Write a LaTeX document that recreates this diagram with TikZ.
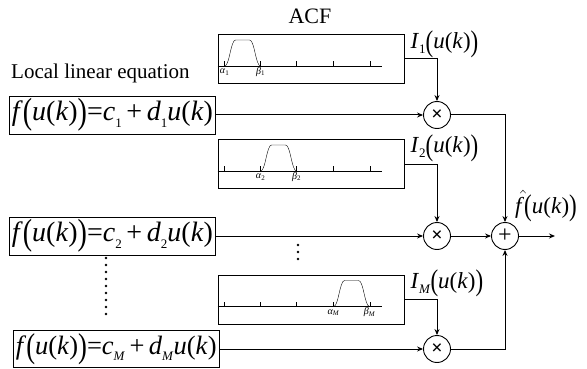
\documentclass[tikz,border=0pt]{standalone}
\usepackage{fontspec}
\setmainfont{Liberation Serif}
\usetikzlibrary{arrows.meta,positioning,calc}
\newcommand{\iv}[1]{\textit{#1}}
\newcommand{\sub}[1]{\raisebox{-0.22em}{\fontsize{13}{13}\selectfont#1}}
\newcommand{\bp}[1]{\raisebox{-0.1em}{\scalebox{1}[1.3]{#1}}}
\newcommand{\uk}{\bp{(}\iv{u}(\iv{k})\bp{)}}
\newcommand{\lineq}[1]{\iv{f}\uk=\iv{c}\sub{#1}\,+\,\iv{d}\sub{#1}\iv{u}(\iv{k})}
\newcommand{\acfbox}[5]{
  \node[acf] (#1) at (311,#2) {};
  \begin{scope}[shift={(#1.west)}]
    \draw (0,7) -- (164,7);
    \foreach \t in {7,43,79,116,153} \draw[line width=1.2pt] (\t,7) -- (\t,2);
    \draw (#3,7) .. controls (#3+5,7) and (#3+6,-19) .. (#3+11,-19)
      -- (#3+25,-19) .. controls (#3+30,-19) and (#3+31,7) .. (#3+36,7);
    \node[tick] at (#3,13) {#4};
    \node[tick] at (#3+36,13) {#5};
  \end{scope}
}
\tikzset{
  acf/.style={draw,line width=0.8pt,minimum width=186pt,minimum height=49pt,inner sep=0pt},
  tick/.style={font=\fontsize{10}{10}\selectfont,inner sep=0pt},
  eqn/.style={draw,line width=0.8pt,inner sep=2.5pt,anchor=west,font=\fontsize{28}{31}\selectfont},
  opr/.style={draw,circle,line width=0.9pt,minimum size=27pt,inner sep=0pt},
  lbl/.style={font=\fontsize{23}{26}\selectfont,inner sep=0pt},
  flow/.style={line width=1pt,-{Stealth[length=6pt,width=5pt]}}
}

\begin{document}
\begin{tikzpicture}[x=1pt,y=-1pt]
  \useasboundingbox (0,0) rectangle (587,369);
  \node[font=\fontsize{22}{24}\selectfont] (acftitle) at (310,16) {ACF};
  \node[font=\fontsize{21}{24}\selectfont,anchor=west,inner sep=0pt] (loctitle) at (11,73) {Local linear equation};

  \acfbox{acf1}{59}{7}{\iv{α}\textsubscript{1}}{\iv{β}\textsubscript{1}}
  \acfbox{acf2}{164}{43}{\iv{α}\textsubscript{2}}{\iv{β}\textsubscript{2}}
  \acfbox{acfm}{299.5}{116}{\iv{α}\textsubscript{\iv{M}}}{\iv{β}\textsubscript{\iv{M}}}

  \node[eqn] (eq1) at (9,115) {\lineq{1}};
  \node[eqn] (eq2) at (9,236) {\lineq{2}};
  \node[eqn,font=\fontsize{26.5}{29}\selectfont] (eqm) at (13,349) {\lineq{\iv{M}}};

  \node[opr,font=\fontsize{20}{20}\selectfont\bfseries] (mul1) at (437,115) {×};
  \node[opr,font=\fontsize{20}{20}\selectfont\bfseries] (mul2) at (437,236) {×};
  \node[opr,font=\fontsize{20}{20}\selectfont\bfseries] (mulm) at (437,349) {×};
  \node[opr,font=\fontsize{24}{24}\selectfont] (sum) at (505,236) {+};
  \coordinate (out) at (555,236);

  \node[lbl,anchor=west] (i1) at ($(acf1.east)+(6,-15)$) {\iv{I}\sub{1}\uk};
  \node[lbl,anchor=west] (i2) at ($(acf2.east)+(6,-16)$) {\iv{I}\sub{2}\uk};
  \node[lbl,anchor=west] (im) at ($(acfm.east)+(6,-16)$) {\iv{I}\sub{\iv{M}}\uk};
  \node[lbl] (fhat) at (546,206) {$\skew{5}\hat{\mbox{\iv{f}}}$\uk};

  % dots
  \foreach \y in {258,265,...,315} \fill (106,\y) circle (1.3pt);
  \foreach \y in {245,252,259} \fill (298,\y) circle (1.3pt);

  \draw[flow] (eq1) -- (mul1);
  \draw[flow] (eq2) -- (mul2);
  \draw[flow] (eqm) -- (mulm);
  \draw[flow] (acf1.east) -| (mul1.north);
  \draw[flow] (acf2.east) -| (mul2.north);
  \draw[flow] (acfm.east) -| (mulm.north);
  \draw[flow] (mul1.east) -| (sum.north);
  \draw[flow] (mul2) -- (sum);
  \draw[flow] (mulm.east) -| (sum.south);
  \draw[flow] (sum) -- (out);
\end{tikzpicture}
\end{document}
